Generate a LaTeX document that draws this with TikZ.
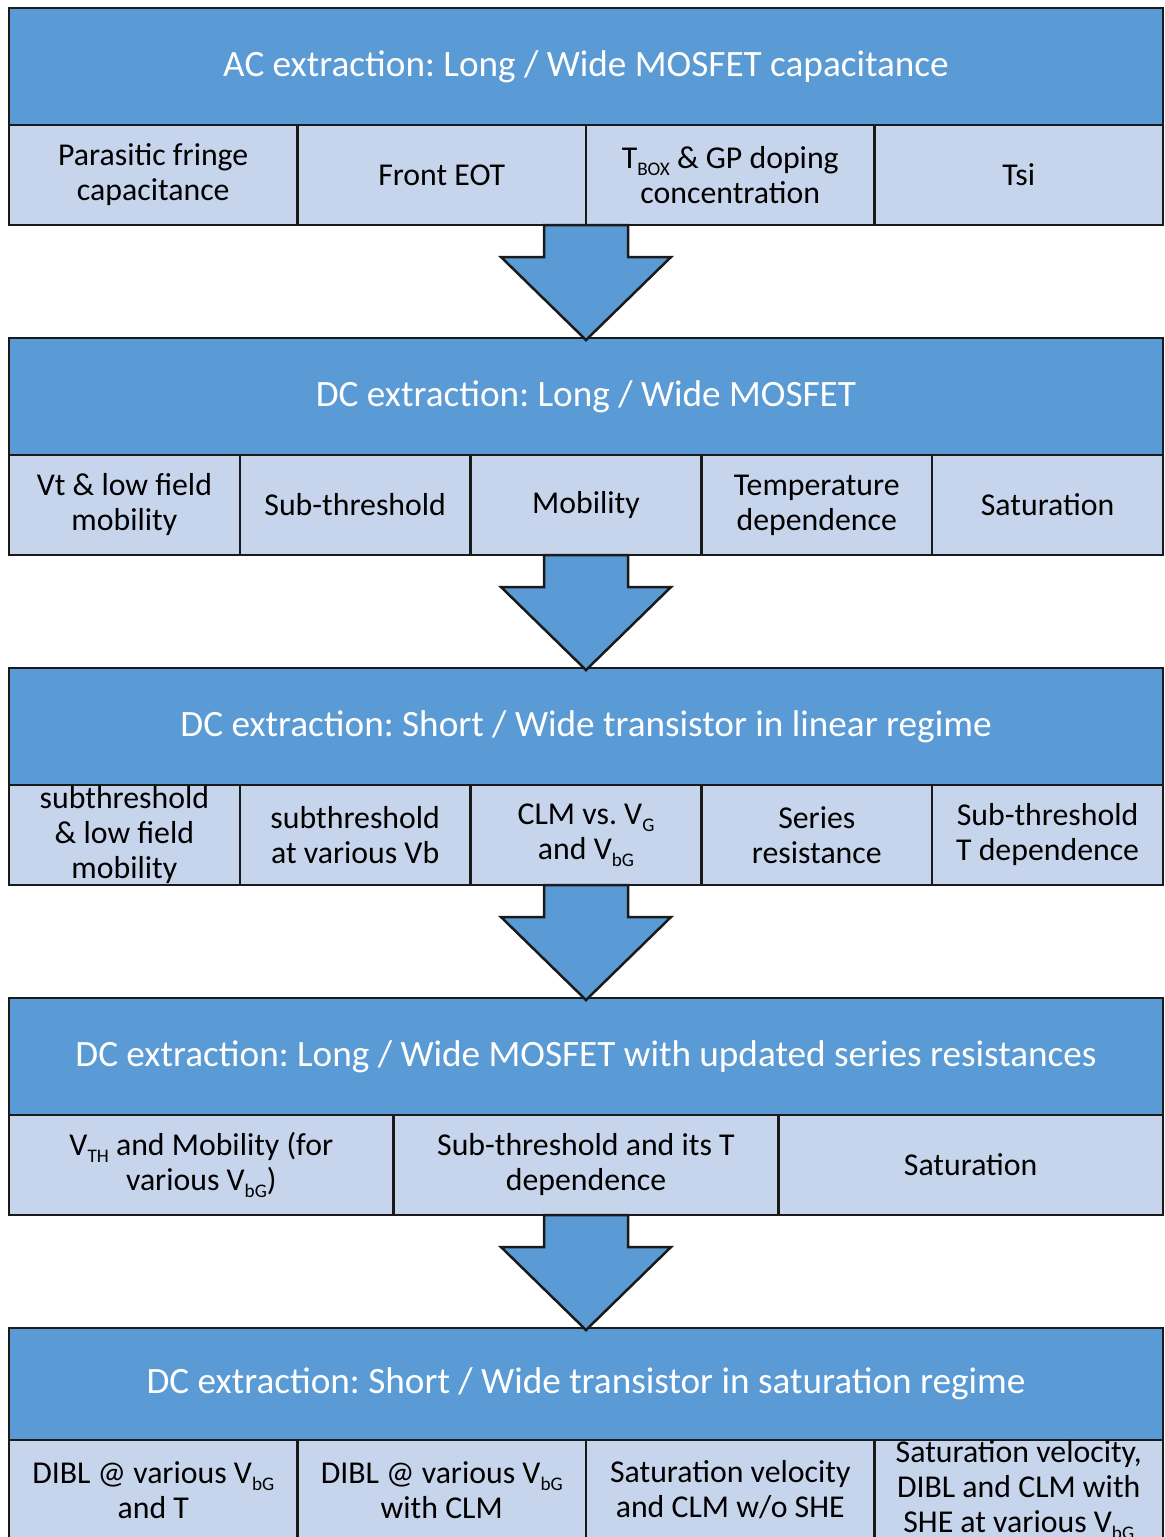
\documentclass[tikz,border=0pt]{standalone}
\usepackage{fontspec}
\setmainfont{Carlito}
\usepackage{tikz}
\usetikzlibrary{positioning,calc}
\frenchspacing
\definecolor{HeadBlue}{HTML}{5B9BD5}
\definecolor{CellBlue}{HTML}{C6D5EB}
\definecolor{EdgeInk}{HTML}{1A1A1A}
\newcommand{\lowtxt}[1]{\raisebox{-3.5pt}{\fontsize{9.6}{11}\selectfont #1}}
\tikzset{
  flowchart/.style={x=0.5pt,y=-0.5pt,line width=1.25pt},
  header/.style={draw=EdgeInk,fill=HeadBlue,text=white,minimum width=577pt,minimum height=58.5pt,inner sep=0pt,outer sep=0pt,anchor=north west,font=\fontsize{18.6}{22}\selectfont},
  cell/.style={draw=EdgeInk,fill=CellBlue,minimum height=50pt,inner sep=0pt,outer sep=0pt,align=center,font=\fontsize{15.9}{17.5}\selectfont},
  quarter/.style={cell,minimum width=144.25pt},
  fifth/.style={cell,minimum width=115.4pt},
  third/.style={cell,minimum width=192.33pt},
  bigarrow/.style={draw=EdgeInk,fill=HeadBlue,line width=1.25pt},
}

\begin{document}
\begin{tikzpicture}[flowchart]
  \useasboundingbox (0,0) rectangle (1164,1537);
  \clip (0,0) rectangle (1164,1537);

  % AC step
  \node[header] (ac) at (9,8) {AC extraction: Long / Wide MOSFET capacitance};
  \node[quarter,anchor=north west] (ac1) at (ac.south west) {Parasitic fringe\\capacitance};
  \node[quarter,right=0pt of ac1] (ac2) {Front EOT};
  \node[quarter,right=0pt of ac2] (ac3) {T\lowtxt{BOX} \& GP doping\\concentration};
  \node[quarter,right=0pt of ac3] (ac4) {Tsi};

  % DC, long device
  \node[header] (dclong) at (9,338) {DC extraction: Long / Wide MOSFET};
  \node[fifth,anchor=north west] (dclong1) at (dclong.south west) {Vt \& low field\\mobility};
  \node[fifth,right=0pt of dclong1] (dclong2) {Sub-threshold};
  \node[fifth,right=0pt of dclong2] (dclong3) {Mobility};
  \node[fifth,right=0pt of dclong3] (dclong4) {Temperature\\dependence};
  \node[fifth,right=0pt of dclong4] (dclong5) {Saturation};

  % DC, short device, linear
  \node[header] (dclin) at (9,668) {DC extraction: Short / Wide transistor in linear regime};
  \node[fifth,anchor=north west] (dclin1) at (dclin.south west) {subthreshold\\\& low field\\mobility};
  \node[fifth,right=0pt of dclin1] (dclin2) {subthreshold\\at various Vb};
  \node[fifth,right=0pt of dclin2] (dclin3) {CLM vs. V\lowtxt{G}\\and V\lowtxt{bG}};
  \node[fifth,right=0pt of dclin3] (dclin4) {Series\\resistance};
  \node[fifth,right=0pt of dclin4] (dclin5) {Sub-threshold\\T dependence};

  % DC, long device again
  \node[header] (dcser) at (9,998) {DC extraction: Long / Wide MOSFET with updated series resistances};
  \node[third,anchor=north west] (dcser1) at (dcser.south west) {V\lowtxt{TH} and Mobility (for\\various V\lowtxt{bG})};
  \node[third,right=0pt of dcser1] (dcser2) {Sub-threshold and its T\\dependence};
  \node[third,right=0pt of dcser2] (dcser3) {Saturation};

  % DC, short device, saturation
  \node[header,minimum height=56pt] (dcsat) at (9,1328) {DC extraction: Short / Wide transistor in saturation regime};
  \node[quarter,anchor=north west] (dcsat1) at (dcsat.south west) {DIBL @ various V\lowtxt{bG}\\and T};
  \node[quarter,right=0pt of dcsat1] (dcsat2) {DIBL @ various V\lowtxt{bG}\\with CLM};
  \node[quarter,right=0pt of dcsat2] (dcsat3) {Saturation velocity\\and CLM w/o SHE};
  \node[quarter,right=0pt of dcsat3] (dcsat4) {Saturation velocity,\\DIBL and CLM with\\SHE at various V\lowtxt{bG}};

  % block arrows
  \foreach \hdr/\row/\nxt in {ac/ac1/dclong,dclong/dclong1/dclin,dclin/dclin1/dcser,dcser/dcser1/dcsat}{
    \coordinate (top) at (\hdr.south |- \row.south);
    \coordinate (tip) at (\nxt.north);
    \draw[bigarrow] ($(top)+(-42,0)$) -- ++(0,32) -- ++(-43,0) -- ($(tip)+(0,2)$)
      -- ($(top)+(85,32)$) -- ++(-43,0) -- ($(top)+(42,0)$) -- cycle;
  }
\end{tikzpicture}
\end{document}
